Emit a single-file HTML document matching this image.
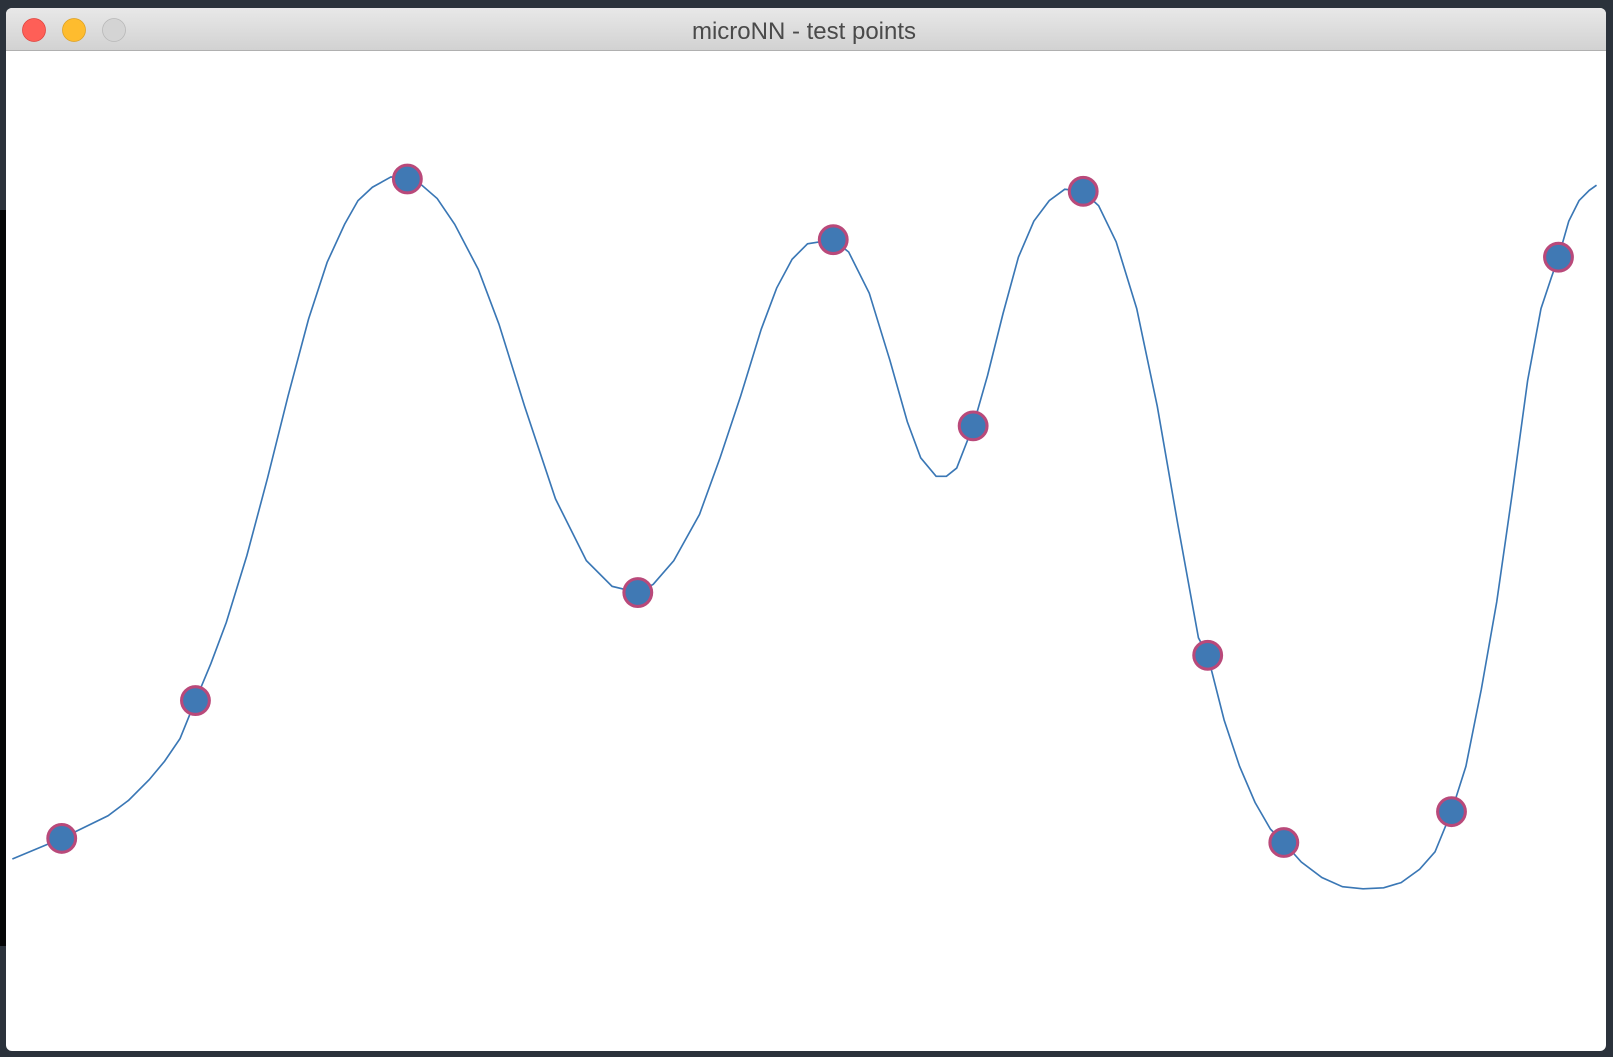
<!DOCTYPE html>
<html><head><meta charset="utf-8"><style>
html,body{margin:0;padding:0;background:#2b323b;width:1613px;height:1057px;overflow:hidden;font-family:"Liberation Sans",sans-serif}
</style></head><body>
<svg id="root" width="1613" height="1057" xmlns="http://www.w3.org/2000/svg">
<rect x="0" y="0" width="1613" height="1057" fill="#2b323b"/>
<rect x="0" y="210" width="7" height="736" fill="#050607"/>
<g>
<rect x="6" y="8" width="1600" height="1043" rx="6" fill="#ffffff"/>
<defs><linearGradient id="tb" x1="0" y1="0" x2="0" y2="1"><stop offset="0" stop-color="#e8e8e8"/><stop offset="1" stop-color="#d2d2d2"/></linearGradient></defs>
<path d="M6 50 V14 a6 6 0 0 1 6 -6 H1600 a6 6 0 0 1 6 6 V50 Z" fill="url(#tb)"/>
<line x1="6" y1="50.5" x2="1606" y2="50.5" stroke="#b0b0b0" stroke-width="1"/>
<circle cx="34" cy="30" r="11.5" fill="#fe5f57" stroke="#e0443e" stroke-width="0.8"/>
<circle cx="74" cy="30" r="11.5" fill="#febc2e" stroke="#dea123" stroke-width="0.8"/>
<circle cx="114" cy="30" r="11.5" fill="#d4d4d4" stroke="#b8b8b8" stroke-width="0.8"/>
<text x="804" y="39" text-anchor="middle" font-size="24" fill="#4a4a4a">microNN - test points</text>
</g>
<g id="chart" transform="scale(1.0287)"></g>
</svg>
<script>
const curveX=[0,4.8,9.3,11.3,13.3,14.8,16.3,17.8,19.3,20.8,22.8,24.8,26.8,28.8,30.6,32.3,33.6,35,36.8,38.4,39.8,41.3,43,45.3,47.3,49.8,52.8,55.8,58.3,60.8,62.3,64.3,66.8,68.8,70.8,72.8,74.3,75.8,77.3,79.8,81.3,83.3,85.3,87,88.3,89.8,90.8,91.8,93.4,94.8,96.3,97.8,99.3,100.8,102.3,104.1,105.6,107.3,109.3,111.3,113.3,115.3,116.2,117.8,119.3,120.8,122.3,123.6,125.3,127.3,129.3,131.3,133.3,135,136.8,138.3,139.9,141.3,142.8,144.3,145.8,147.3,148.6,149.6,150.3,151.3,152.3,153.3,154];
const curveY=[1.65,1.85,2.07,2.22,2.42,2.6,2.82,3.19,3.55,3.95,4.6,5.35,6.15,6.9,7.45,7.82,8.05,8.18,8.28,8.27,8.2,8.07,7.82,7.38,6.85,6.05,5.15,4.55,4.3,4.24,4.32,4.55,5,5.55,6.15,6.8,7.2,7.48,7.63,7.67,7.55,7.15,6.5,5.9,5.55,5.37,5.37,5.45,5.86,6.35,6.95,7.5,7.85,8.05,8.16,8.14,8,7.65,7,6.05,4.9,3.8,3.63,3,2.55,2.2,1.94,1.81,1.62,1.47,1.38,1.36,1.37,1.42,1.55,1.72,2.11,2.55,3.3,4.15,5.2,6.3,7,7.3,7.5,7.85,8.05,8.15,8.2];
const pointX=[4.8,17.8,38.4,60.8,79.8,93.4,104.1,116.2,123.6,139.9,150.3];
const pointY=[1.85,3.19,8.26,4.24,7.67,5.86,8.14,3.63,1.81,2.11,7.50];
function sx(v){return 12+v*10;}
function sy(v){return 1000-v*100;}
const NS="http://www.w3.org/2000/svg";
const g=document.getElementById('chart');
const line=document.createElementNS(NS,'polyline');


line.setAttribute('points',curveX.map((x,i)=>sx(x)+','+sy(curveY[i])).join(' '));
line.setAttribute('fill','none');line.setAttribute('stroke','#3a77b5');line.setAttribute('stroke-width','1.6');
g.appendChild(line);
pointX.forEach((x,i)=>{
 const c=document.createElementNS(NS,'circle');
 
 
 c.setAttribute('cx',sx(x));c.setAttribute('cy',sy(pointY[i]));c.setAttribute('r','13.5');
 c.setAttribute('fill','#4079b4');c.setAttribute('stroke','#b9497a');c.setAttribute('stroke-width','3');
 g.appendChild(c);
});
</script>
</body></html>
